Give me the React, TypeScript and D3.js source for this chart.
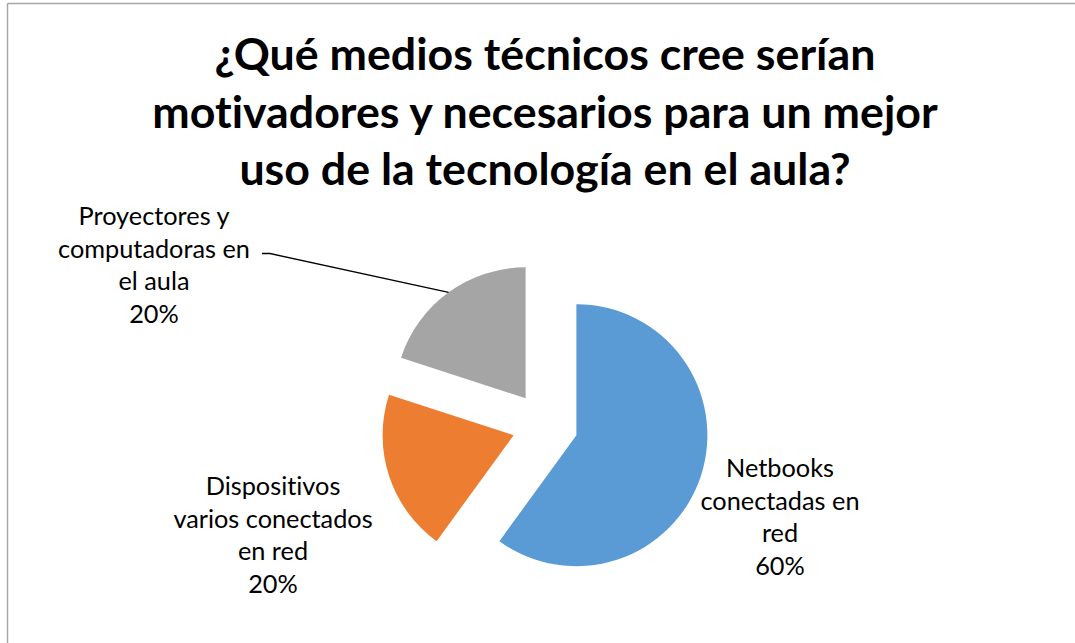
import React, { useEffect, useRef } from "react";
import * as d3 from "d3";

const categories = [
  "Netbooks conectadas en red",
  "Dispositivos varios conectados en red",
  "Proyectores y computadoras en el aula",
];
const values = [60, 20, 20];
const colors = ["#5B9BD5", "#ED7D31", "#A5A5A5"];
const labelLines = [
  ["Netbooks", "conectadas en", "red", "60%"],
  ["Dispositivos", "varios conectados", "en red", "20%"],
  ["Proyectores y", "computadoras en", "el aula", "20%"],
];
const titleLines = [
  "¿Qué medios técnicos cree serían",
  "motivadores y necesarios para un mejor",
  "uso de la tecnología en el aula?",
];

const W = 1075;
const H = 643;
const FONT = "Lato, 'Open Sans', sans-serif";

export default function App() {
  const ref = useRef<SVGSVGElement>(null);

  useEffect(() => {
    const svg = d3.select(ref.current);
    svg.selectAll("*").remove();

    // chart frame (only top/left edges show)
    svg.append("line").attr("x1", 7.5).attr("y1", 3.5).attr("x2", W).attr("y2", 3.5)
      .attr("stroke", "#a6a6a6").attr("stroke-width", 1.5);
    svg.append("line").attr("x1", 7.5).attr("y1", 3.5).attr("x2", 7.5).attr("y2", H)
      .attr("stroke", "#a6a6a6").attr("stroke-width", 1.5);

    // font size that makes a string reach a target width
    const fit = (text: string, target: number, weight: string) => {
      const t = svg.append("text").attr("font-family", FONT).attr("font-size", 100)
        .attr("font-weight", weight).style("font-variant-ligatures", "none").text(text);
      const len = (t.node() as SVGTextElement).getComputedTextLength();
      t.remove();
      return (100 * target) / len;
    };

    const titleSize = fit(titleLines[0], 661, "bold");
    const labelSize = fit("computadoras en", 192, "normal");

    const title = svg.append("text")
      .attr("font-family", FONT).attr("font-weight", "bold")
      .style("font-variant-ligatures", "none")
      .attr("font-size", titleSize).attr("text-anchor", "middle").attr("fill", "#000");
    titleLines.forEach((l, i) => {
      title.append("tspan").attr("x", 545).attr("y", 70 + i * 57.5).text(l);
    });

    const cx = 545, cy = 425, r = 131, explode = 33;
    const pie = d3.pie<number>().value((d) => d).sort(null);
    const arc = d3.arc<d3.PieArcDatum<number>>().innerRadius(0).outerRadius(r);
    const arcs = pie(values);

    const g = svg.append("g").attr("transform", `translate(${cx},${cy})`);
    const off = (d: d3.PieArcDatum<number>) => {
      const a = (d.startAngle + d.endAngle) / 2;
      return [Math.sin(a) * explode, -Math.cos(a) * explode];
    };

    g.selectAll("path").data(arcs).enter().append("path")
      .attr("d", arc)
      .attr("fill", (d, i) => colors[i])
      .attr("transform", (d) => `translate(${off(d)[0]},${off(d)[1]})`)
      .append("title").text((d, i) => categories[i]);

    // label positions (center x, first baseline)
    const labelPos = [
      [780, 477],
      [273, 495],
      [154, 225],
    ];
    labelLines.forEach((lines, i) => {
      const t = svg.append("text").attr("font-family", FONT).attr("font-size", labelSize)
        .style("font-variant-ligatures", "none")
        .attr("text-anchor", "middle").attr("fill", "#000");
      lines.forEach((l, j) => {
        t.append("tspan").attr("x", labelPos[i][0]).attr("y", labelPos[i][1] + j * 32.5).text(l);
      });
    });

    // leader line for the gray slice
    const gray = arcs[2];
    const a = (gray.startAngle + gray.endAngle) / 2;
    const [ox, oy] = off(gray);
    const ex = cx + ox + Math.sin(a) * r;
    const ey = cy + oy - Math.cos(a) * r;
    svg.append("path")
      .attr("d", `M262,253.5 L270,253.5 L${ex},${ey}`)
      .attr("fill", "none").attr("stroke", "#000").attr("stroke-width", 1.3);
  }, []);

  return (
    <svg
      ref={ref}
      width={W}
      height={H}
      style={{ position: "absolute", left: 0, top: 0, background: "#fff" }}
    />
  );
}
